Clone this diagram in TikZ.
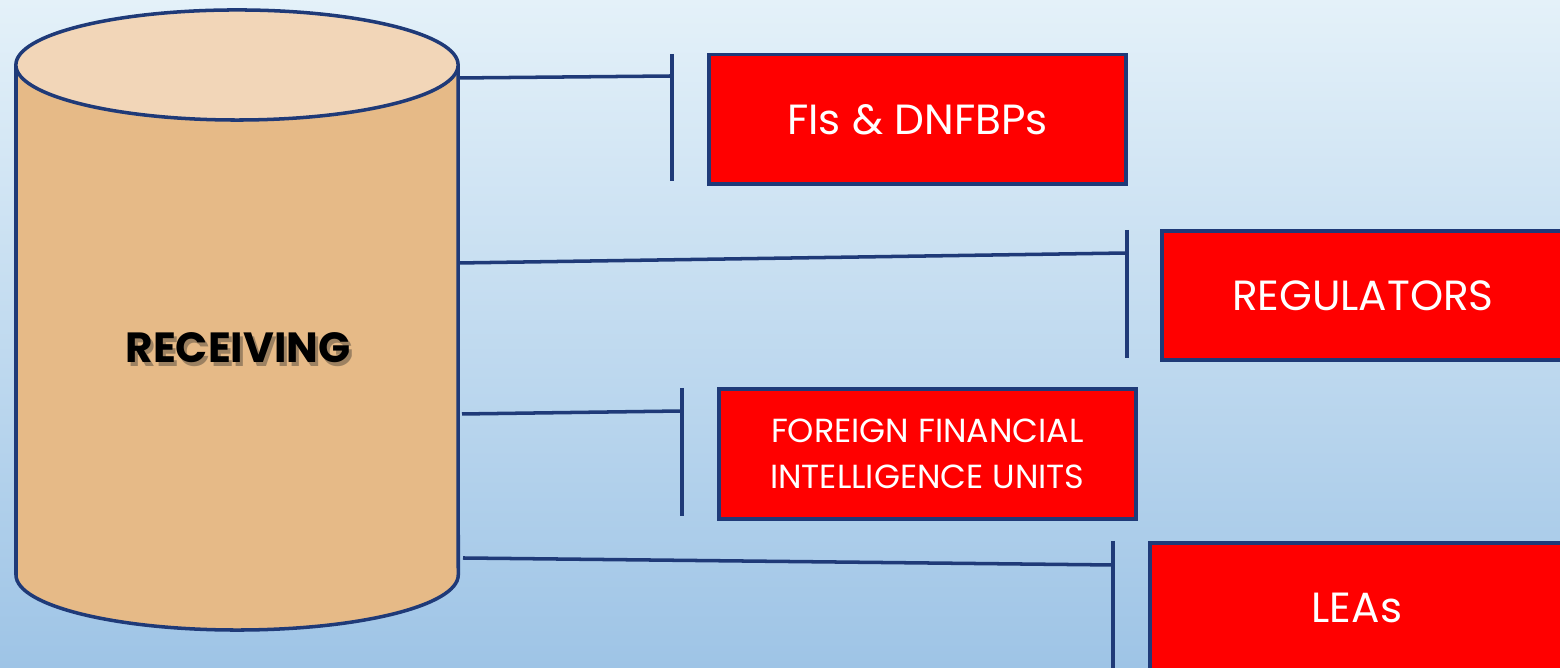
\documentclass[tikz,border=0pt]{standalone}
\usepackage{fontspec}
\setmainfont{Poppins}
\usetikzlibrary{shadings}
\definecolor{navy}{HTML}{1F3A78}
\definecolor{cyltop}{HTML}{F2D6B8}
\definecolor{cylbody}{HTML}{E6BA87}
\definecolor{bgtop}{HTML}{E4F1F9}
\definecolor{bgbot}{HTML}{9EC4E6}
\definecolor{boxred}{HTML}{FF0000}
\definecolor{shadowc}{HTML}{8A7358}
\tikzset{
  conn/.style={draw=navy, line width=1pt},
  redbox/.style={draw=navy, line width=1pt, fill=boxred, text=white, anchor=north west, inner sep=0pt, align=center, font=\fontsize{12}{14}\selectfont},
}
\begin{document}
\begin{tikzpicture}[x=0.01cm,y=-0.01cm]
\useasboundingbox (0,0) rectangle (1560,668);
\clip (0,0) rectangle (1560,668);
\shade[top color=bgtop, bottom color=bgbot] (0,0) rectangle (1560,668);
% cylinder
\fill[cylbody] (16,65) -- (16,575) arc[start angle=180,end angle=360,x radius=2.21cm,y radius=0.55cm] -- (458,65) -- cycle;
\draw[navy, line width=1pt] (16,65) -- (16,575) arc[start angle=180,end angle=360,x radius=2.21cm,y radius=0.55cm] -- (458,65);
\draw[navy, line width=1pt, fill=cyltop] (237,65) ellipse [x radius=2.21cm, y radius=0.55cm];
\node[text=shadowc, opacity=0.8, font=\fontsize{12}{14}\selectfont\bfseries] at (241,352) {RECEIVING};
\node[text=black, font=\fontsize{12}{14}\selectfont\bfseries] (recv) at (238,348) {RECEIVING};
% boxes
\node[redbox, minimum width=4.17cm, minimum height=1.29cm] (fis) at (707,53) {FIs \& DNFBPs};
\node[redbox, minimum width=4.02cm, minimum height=1.29cm] (reg) at (1160,229) {REGULATORS};
\node[redbox, minimum width=4.17cm, minimum height=1.30cm, font=\fontsize{9.5}{13.2}\selectfont] (fiu) at (717,387) {FOREIGN FINANCIAL\\INTELLIGENCE UNITS};
\node[redbox, minimum width=4.14cm, minimum height=1.40cm] (lea) at (1148,541) {\raisebox{0.1cm}{LEAs}};
% connector coordinates
\coordinate (s1) at (458,78);
\coordinate (m1) at (672,76);
\coordinate (t1) at (672,54);
\coordinate (u1) at (672,181);
\coordinate (s2) at (458,263);
\coordinate (m2) at (1127,253);
\coordinate (t2) at (1127,230);
\coordinate (u2) at (1127,358);
\coordinate (s3) at (462,414);
\coordinate (m3) at (682,411);
\coordinate (t3) at (682,388);
\coordinate (u3) at (682,516);
\coordinate (s4) at (463,558);
\coordinate (m4) at (1113,565);
\coordinate (t4) at (1113,541);
\coordinate (u4) at (1113,670);
\draw[conn] (s1) -- (m1); \draw[conn] (t1) -- (u1);
\draw[conn] (s2) -- (m2); \draw[conn] (t2) -- (u2);
\draw[conn] (s3) -- (m3); \draw[conn] (t3) -- (u3);
\draw[conn] (s4) -- (m4); \draw[conn] (t4) -- (u4);
\end{tikzpicture}
\end{document}
